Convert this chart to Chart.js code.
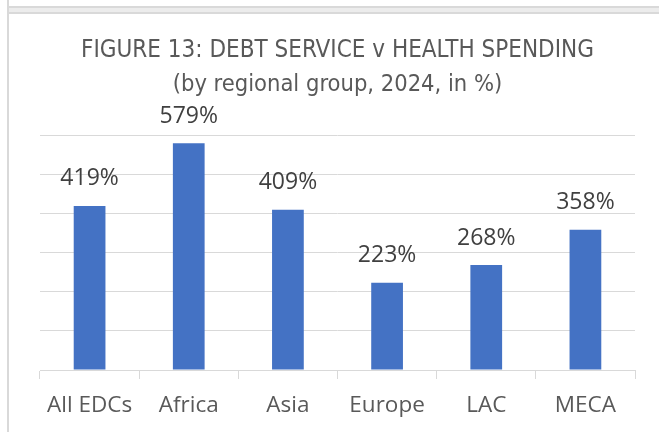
<!DOCTYPE html>
<html>
<head>
<meta charset="utf-8">
<script src="https://cdn.jsdelivr.net/npm/chart.js@4.4.1/dist/chart.umd.min.js"></script>
<style>
  html, body { margin: 0; padding: 0; background: #fff; }
  #wrap { width: 659px; height: 432px; position: relative; }
</style>
</head>
<body>
<div id="wrap"><canvas id="debtChart"></canvas></div>
<script>
// data
var regions = ['All EDCs', 'Africa', 'Asia', 'Europe', 'LAC', 'MECA'];
var debtVsHealth = [419, 579, 409, 223, 268, 358];
var yTicks = [0, 100, 200, 300, 400, 500, 600];

var BAR_BLUE = '#4472C4';
var GRID_GRAY = '#d9d9d9';
var TEXT_GRAY = '#595959';

// frame lines like the document box around the chart
var framePlugin = {
    id: 'frame',
    beforeDraw: function(chart) {
        var c = chart.ctx;
        c.save();
        c.fillStyle = '#ececec';
        c.fillRect(8, 7, 651, 6);
        c.strokeStyle = GRID_GRAY;
        c.lineWidth = 2;
        c.beginPath();
        c.moveTo(8, 7); c.lineTo(659, 7);
        c.moveTo(8, 13); c.lineTo(659, 13);
        c.moveTo(8, 0); c.lineTo(8, 432);
        c.stroke();
        c.restore();
    }
};

// value labels above each bar
var valueLabels = {
    id: 'valueLabels',
    afterDatasetsDraw: function(chart) {
        var c = chart.ctx;
        var meta = chart.getDatasetMeta(0);
        c.save();
        c.font = '23px "Open Sans"';
        c.fillStyle = '#404040';
        c.textAlign = 'center';
        c.textBaseline = 'middle';
        meta.data.forEach(function(bar, i) {
            c.fillText(debtVsHealth[i] + '%', bar.x, bar.y - 27);
        });
        c.restore();
    }
};

new Chart(document.getElementById('debtChart'), {
    type: 'bar',
    data: {
        labels: regions,
        datasets: [{
            data: debtVsHealth,
            backgroundColor: BAR_BLUE,
            categoryPercentage: 1,
            barPercentage: 0.32
        }]
    },
    options: {
        responsive: true,
        maintainAspectRatio: false,
        animation: false,
        layout: { padding: { left: 40, right: 24, top: 0, bottom: 0 } },
        plugins: {
            legend: { display: false },
            tooltip: { enabled: false },
            title: {
                display: true,
                text: 'FIGURE 13: DEBT SERVICE v HEALTH SPENDING',
                color: TEXT_GRAY,
                font: { family: '"DejaVu Sans Condensed"', size: 24, weight: 'normal' },
                padding: { top: 36, bottom: 0 }
            },
            subtitle: {
                display: true,
                text: '(by regional group, 2024, in %)',
                color: TEXT_GRAY,
                font: { family: '"DejaVu Sans Condensed"', size: 23.5, weight: 'normal' },
                padding: { top: 6, bottom: 36 }
            }
        },
        scales: {
            x: {
                grid: { display: true, drawOnChartArea: false, drawTicks: true, tickLength: 9, color: GRID_GRAY },
                border: { display: true, color: GRID_GRAY, width: 1 },
                ticks: { color: TEXT_GRAY, padding: 13, font: { family: '"Open Sans"', size: 22.5 } }
            },
            y: {
                min: 0,
                max: 600,
                afterBuildTicks: function(scale) {
                    scale.ticks = yTicks.map(function(v) { return { value: v }; });
                },
                grid: { color: GRID_GRAY, drawTicks: false },
                border: { display: false },
                ticks: { display: false }
            }
        }
    },
    plugins: [framePlugin, valueLabels]
});
</script>
</body>
</html>
